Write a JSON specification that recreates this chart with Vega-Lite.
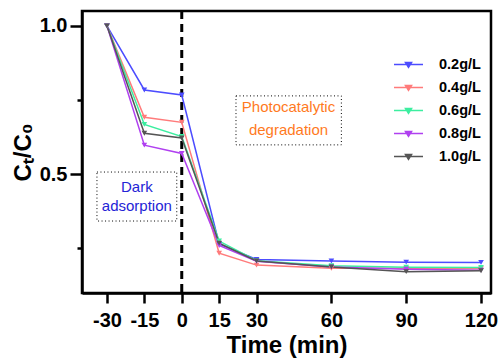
{
  "$schema": "https://vega.github.io/schema/vega-lite/v6.json",
  "width": 409,
  "height": 282,
  "autosize": "none",
  "padding": {"left": 82, "top": 11, "right": 9, "bottom": 65},
  "config": {
    "font": "Liberation Sans",
    "view": {"stroke": "black", "strokeWidth": 2.5},
    "axis": {"grid": false, "domainColor": "black", "tickColor": "black", "labelColor": "black", "titleColor": "black", "domainWidth": 2.5, "tickWidth": 2.5, "labelFont": "Liberation Sans", "titleFont": "Liberation Sans", "labelFontWeight": "bold", "titleFontWeight": "bold"}
  },
  "data": {
    "values": [
      {"time": -30, "c": 1.0, "dose": "0.2g/L"},
      {"time": -15, "c": 0.784, "dose": "0.2g/L"},
      {"time": 0, "c": 0.767, "dose": "0.2g/L"},
      {"time": 15, "c": 0.265, "dose": "0.2g/L"},
      {"time": 30, "c": 0.213, "dose": "0.2g/L"},
      {"time": 60, "c": 0.208, "dose": "0.2g/L"},
      {"time": 90, "c": 0.204, "dose": "0.2g/L"},
      {"time": 120, "c": 0.203, "dose": "0.2g/L"},
      {"time": -30, "c": 1.0, "dose": "0.4g/L"},
      {"time": -15, "c": 0.692, "dose": "0.4g/L"},
      {"time": 0, "c": 0.675, "dose": "0.4g/L"},
      {"time": 15, "c": 0.234, "dose": "0.4g/L"},
      {"time": 30, "c": 0.194, "dose": "0.4g/L"},
      {"time": 60, "c": 0.183, "dose": "0.4g/L"},
      {"time": 90, "c": 0.183, "dose": "0.4g/L"},
      {"time": 120, "c": 0.182, "dose": "0.4g/L"},
      {"time": -30, "c": 1.0, "dose": "0.6g/L"},
      {"time": -15, "c": 0.668, "dose": "0.6g/L"},
      {"time": 0, "c": 0.627, "dose": "0.6g/L"},
      {"time": 15, "c": 0.275, "dose": "0.6g/L"},
      {"time": 30, "c": 0.209, "dose": "0.6g/L"},
      {"time": 60, "c": 0.192, "dose": "0.6g/L"},
      {"time": 90, "c": 0.187, "dose": "0.6g/L"},
      {"time": 120, "c": 0.186, "dose": "0.6g/L"},
      {"time": -30, "c": 1.0, "dose": "0.8g/L"},
      {"time": -15, "c": 0.598, "dose": "0.8g/L"},
      {"time": 0, "c": 0.570, "dose": "0.8g/L"},
      {"time": 15, "c": 0.26, "dose": "0.8g/L"},
      {"time": 30, "c": 0.207, "dose": "0.8g/L"},
      {"time": 60, "c": 0.188, "dose": "0.8g/L"},
      {"time": 90, "c": 0.18, "dose": "0.8g/L"},
      {"time": 120, "c": 0.177, "dose": "0.8g/L"},
      {"time": -30, "c": 1.0, "dose": "1.0g/L"},
      {"time": -15, "c": 0.638, "dose": "1.0g/L"},
      {"time": 0, "c": 0.622, "dose": "1.0g/L"},
      {"time": 15, "c": 0.268, "dose": "1.0g/L"},
      {"time": 30, "c": 0.208, "dose": "1.0g/L"},
      {"time": 60, "c": 0.188, "dose": "1.0g/L"},
      {"time": 90, "c": 0.172, "dose": "1.0g/L"},
      {"time": 120, "c": 0.175, "dose": "1.0g/L"}
    ]
  },
  "layer": [
    {
      "data": {"values": [{}]},
      "mark": {"type": "rule", "color": "black", "strokeWidth": 3, "strokeDash": [8, 5]},
      "encoding": {"x": {"datum": 0, "type": "quantitative"}}
    },
    {
      "data": {"values": [{}]},
      "mark": {"type": "rect", "fill": "white", "stroke": "black", "strokeWidth": 1, "strokeDash": [1, 2.5]},
      "encoding": {"x": {"datum": -34, "type": "quantitative"}, "x2": {"datum": -2}, "y": {"datum": 0.5075, "type": "quantitative"}, "y2": {"datum": 0.3425}}
    },
    {
      "data": {"values": [{}]},
      "mark": {"type": "rect", "fill": "white", "stroke": "black", "strokeWidth": 1, "strokeDash": [1, 2.5]},
      "encoding": {"x": {"datum": 21.75, "type": "quantitative"}, "x2": {"datum": 64}, "y": {"datum": 0.764, "type": "quantitative"}, "y2": {"datum": 0.599}}
    },
    {
      "data": {"values": [{}]},
      "mark": {"type": "text", "text": ["Dark", "adsorption"], "color": "#2424d6", "fontSize": 15, "lineHeight": 19, "align": "center", "baseline": "middle"},
      "encoding": {"x": {"datum": -18, "type": "quantitative"}, "y": {"datum": 0.457, "type": "quantitative"}}
    },
    {
      "data": {"values": [{}]},
      "mark": {"type": "text", "text": ["Photocatalytic", "degradation"], "color": "#ff7a1e", "fontSize": 15, "lineHeight": 23, "align": "center", "baseline": "middle"},
      "encoding": {"x": {"datum": 42.8, "type": "quantitative"}, "y": {"datum": 0.727, "type": "quantitative"}}
    },
    {
      "mark": {"type": "line", "strokeWidth": 1.5},
      "encoding": {
        "x": {"field": "time", "type": "quantitative", "scale": {"domain": [-40, 124], "nice": false, "zero": false},
          "axis": {"values": [-30, -15, 0, 15, 30, 60, 90, 120], "labelExpr": "datum.value < 0 ? '-' + abs(datum.value) : '' + datum.value", "tickSize": 10, "labelFontSize": 20, "labelPadding": 7, "title": "Time (min)", "titleFontSize": 24, "titlePadding": 3}},
        "y": {"field": "c", "type": "quantitative", "scale": {"domain": [0.1, 1.05], "nice": false, "zero": false},
          "axis": {"values": [0.25, 0.5, 0.75, 1.0], "labelExpr": "datum.value == 0.5 || datum.value == 1 ? format(datum.value, '.1f') : ''",
            "tickSize": {"condition": {"test": "datum.value == 0.5 || datum.value == 1", "value": 12}, "value": 5},
            "labelFontSize": 20, "labelPadding": 3, "title": "Cₜ/C₀", "titleFontSize": 24, "titlePadding": 4}},
        "color": {"field": "dose", "type": "nominal",
          "scale": {"domain": ["0.2g/L", "0.4g/L", "0.6g/L", "0.8g/L", "1.0g/L"], "range": ["#4c4cff", "#ff7b7b", "#3ceea0", "#b040f0", "#555555"]},
          "legend": {"title": null, "orient": "none", "legendX": 311, "legendY": 38, "padding": 0, "rowPadding": 1,
            "symbolType": "M-1,0H1M-0.21,-0.14L0.21,-0.14L0,0.2Z", "symbolSize": 841, "symbolStrokeWidth": 1.5,
            "labelFontSize": 14.5, "labelFontWeight": "bold", "labelColor": "black", "labelOffset": 15,
            "encode": {"symbols": {"update": {"stroke": {"scale": "color", "field": "value"}, "fill": {"scale": "color", "field": "value"}, "fillOpacity": {"value": 1}}}}}},
        "detail": {"field": "dose"}
      }
    },
    {
      "mark": {"type": "point", "shape": "triangle-down", "filled": true, "size": 32, "opacity": 1},
      "encoding": {
        "x": {"field": "time", "type": "quantitative"},
        "y": {"field": "c", "type": "quantitative"},
        "color": {"field": "dose", "type": "nominal"}
      }
    }
  ]
}
